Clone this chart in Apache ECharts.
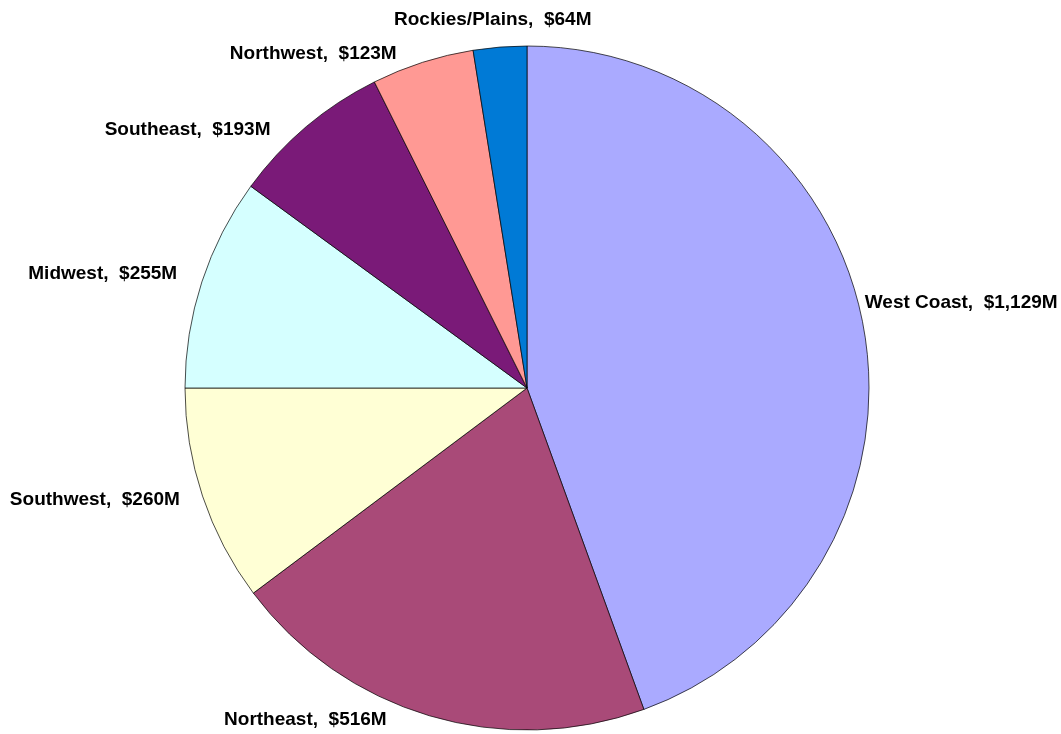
<!DOCTYPE html>
<html>
<head>
<meta charset="utf-8">
<script src="https://cdn.jsdelivr.net/npm/echarts@6/dist/echarts.min.js"></script>
<style>
html,body{margin:0;padding:0;background:#fff;}
#chart{width:1061px;height:734px;}
</style>
</head>
<body>
<div id="chart"></div>
<script>
const regions = ['West Coast', 'Northeast', 'Southwest', 'Midwest', 'Southeast', 'Northwest', 'Rockies/Plains'];
const values = [1129, 516, 260, 255, 193, 123, 64];
const colors = ['#AAAAFF', '#A94A78', '#FFFFD5', '#D5FFFF', '#7A1A78', '#FF9994', '#007AD6'];

// label nudges (style only), by slice index
const labelNudge = [[-14, -25], [-32, -2], [-8, 2], [-10, -6], [-23, 8], [-15, -3], [101, -21]];

const chart = echarts.init(document.getElementById('chart'));
chart.setOption({
  animation: false,
  backgroundColor: '#ffffff',
  series: [{
    type: 'pie',
    center: [527, 388],
    radius: 342,
    startAngle: 90,
    clockwise: true,
    avoidLabelOverlap: false,
    data: regions.map((n, i) => ({
      name: n,
      value: values[i],
      itemStyle: { color: colors[i] }
    })),
    itemStyle: { borderColor: '#000000', borderWidth: 0.7 },
    label: {
      show: true,
      position: 'outside',
      formatter: p => p.name + ',  $' + p.value.toLocaleString('en-US') + 'M',
      fontFamily: 'Liberation Sans, Arial, sans-serif',
      fontWeight: 'bold',
      fontSize: 19,
      color: '#000000'
    },
    labelLine: { show: false, length: 6, length2: 4 },
    labelLayout: p => ({ dx: labelNudge[p.dataIndex][0], dy: labelNudge[p.dataIndex][1] }),
    emphasis: { disabled: true }
  }]
});
</script>
</body>
</html>
